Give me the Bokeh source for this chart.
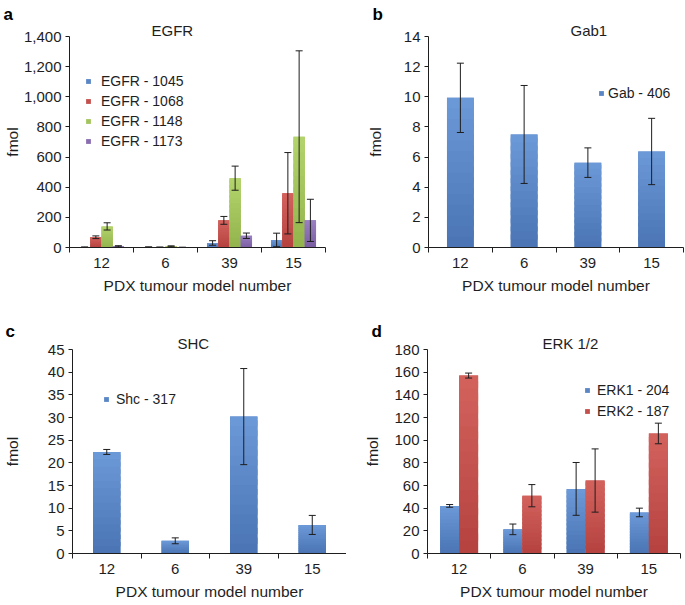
from bokeh.plotting import figure
from bokeh.models import (Range1d, FixedTicker, SingleIntervalTicker, NumeralTickFormatter,
                          ColumnDataSource, Whisker, TeeHead, Title)
from bokeh.layouts import column, row
from bokeh.embed import file_html
from bokeh.resources import INLINE

# ---------------- data ----------------
categories = ["12", "6", "39", "15"]

egfr_names = ["EGFR - 1045", "EGFR - 1068", "EGFR - 1148", "EGFR - 1173"]
egfr_1045 = [2, 3, 30, 50]
egfr_1045_err = [2, 1, 15, 45]
egfr_1068 = [68, 2, 180, 360]
egfr_1068_err = [9, 1, 26, 270]
egfr_1148 = [140, 8, 460, 735]
egfr_1148_err = [24, 3, 80, 570]
egfr_1173 = [8, 1, 78, 180]
egfr_1173_err = [4, 1, 18, 140]

gab_names = ["Gab - 406"]
gab_406 = [9.93, 7.5, 5.63, 6.37]
gab_406_err = [2.3, 3.25, 0.98, 2.2]

shc_names = ["Shc - 317"]
shc_317 = [22.4, 2.8, 30.2, 6.3]
shc_317_err = [0.55, 0.65, 10.6, 2.1]

erk_names = ["ERK1 - 204", "ERK2 - 187"]
erk1_204 = [42, 21.3, 57, 36.2]
erk1_204_err = [1.2, 4.7, 23.3, 3.8]
erk2_187 = [157, 51, 64.4, 105.9]
erk2_187_err = [2.2, 9.8, 27.9, 9.1]

# (legend/mid colour, light top, dark bottom)
BLUE = ("#5A86C5", (108, 153, 216), (74, 116, 179))
RED = ("#C4504C", (211, 98, 93), (181, 66, 63))
GREEN = ("#A3C45C", (179, 211, 108), (147, 179, 77))
PURPLE = ("#8A6CB0", (154, 128, 194), (122, 93, 162))
INK = "#1e1e1e"
FONT = "Liberation Sans"
NSLICE = 14


def make_fig(w, h, left, right, top, bottom, ymax, yint, yfmt, title, toff,
             letter, loff, ylab_standoff, s1, s2):
    n = len(categories)
    p = figure(width=w, height=h, x_range=Range1d(0, n), y_range=Range1d(0, ymax),
               output_backend="svg", toolbar_location=None, title=None,
               min_border_left=left, min_border_right=right,
               min_border_top=top, min_border_bottom=bottom)
    p.outline_line_color = None
    p.xgrid.visible = False
    p.ygrid.visible = False
    p.background_fill_color = "white"
    p.border_fill_color = "white"

    centers = [i + 0.5 for i in range(n)]
    xa = p.xaxis[0]
    xa.ticker = FixedTicker(ticks=centers, minor_ticks=list(range(n + 1)))
    xa.major_label_overrides = {c: lab for c, lab in zip(centers, categories)}
    xa.major_tick_out = 0
    xa.major_tick_in = 0
    xa.minor_tick_out = 5
    xa.minor_tick_in = 0
    xa.major_label_standoff = 5
    xa.axis_label = "PDX tumour model number"
    xa.axis_label_standoff = 6

    ya = p.yaxis[0]
    ya.ticker = SingleIntervalTicker(interval=yint, num_minor_ticks=0)
    if yfmt:
        ya.formatter = NumeralTickFormatter(format=yfmt)
    ya.major_tick_out = 4
    ya.major_tick_in = 0
    ya.minor_tick_out = 0
    ya.minor_tick_in = 0
    ya.major_label_standoff = 4
    ya.axis_label = "fmol"
    ya.axis_label_standoff = ylab_standoff

    for ax in (xa, ya):
        ax.axis_line_color = INK
        ax.major_tick_line_color = INK
        ax.minor_tick_line_color = INK
        ax.major_label_text_font = FONT
        ax.major_label_text_font_size = "15px"
        ax.major_label_text_color = INK
        ax.axis_label_text_font = FONT
        ax.axis_label_text_font_size = "15.5px"
        ax.axis_label_text_font_style = "normal"
        ax.axis_label_text_color = INK

    p.add_layout(Title(text=title, align="left", offset=toff, standoff=s1,
                       text_font=FONT, text_font_size="15px", text_font_style="normal",
                       text_color=INK), "above")
    p.add_layout(Title(text=letter, align="left", offset=loff, standoff=s2,
                       text_font=FONT, text_font_size="17px", text_font_style="bold",
                       text_color="black"), "above")
    return p, centers


def mix(c0, c1, t):
    r, g, b = (round(a + (b_ - a) * t) for a, b_ in zip(c0, c1))
    return "#%02x%02x%02x" % (r, g, b)


def add_series(p, centers, vals, errs, offset, width, color, name):
    mid, light, dark = color
    xs = [c + offset for c in centers]
    src = ColumnDataSource(dict(x=xs, top=vals,
                                upper=[v + e for v, e in zip(vals, errs)],
                                lower=[max(v - e, 0) for v, e in zip(vals, errs)]))
    p.vbar(x="x", top="top", width=width, bottom=0, source=src,
           fill_color=mid, line_color=None, legend_label=name)
    # vertical shading of each bar: slices of the same bar, darker at the base
    for k in range(NSLICE):
        bots = [v * k / NSLICE for v in vals]
        tops = [min(v * (k + 1.6) / NSLICE, v) for v in vals]
        p.vbar(x=xs, bottom=bots, top=tops, width=width,
               fill_color=mix(dark, light, (k + 0.5) / NSLICE), line_color=None)
    wk = Whisker(source=src, base="x", upper="upper", lower="lower", dimension="height",
                 line_color=INK, line_width=1, level="annotation",
                 upper_head=TeeHead(size=7, line_color=INK, line_width=1),
                 lower_head=TeeHead(size=7, line_color=INK, line_width=1))
    p.add_layout(wk)


def style_legend(p, x, y, standoff, spacing):
    lg = p.legend[0]
    lg.location = (x, y)
    lg.margin = 0
    lg.padding = 0
    lg.border_line_color = None
    lg.background_fill_alpha = 0
    lg.glyph_width = 6
    lg.glyph_height = 6
    lg.label_height = 17
    lg.spacing = spacing
    lg.label_standoff = standoff
    lg.label_text_font = FONT
    lg.label_text_font_size = "14px"
    lg.label_text_color = INK


# ---------- panel a ----------
pa, ca = make_fig(342, 300, 68, 17, 36, 53, 1400, 200, "0,0", "EGFR", 82, "a", -66, 0, -4, -4)
bw = 0.176
for k, (vals, errs, col, nm) in enumerate(zip(
        [egfr_1045, egfr_1068, egfr_1148, egfr_1173],
        [egfr_1045_err, egfr_1068_err, egfr_1148_err, egfr_1173_err],
        [BLUE, RED, GREEN, PURPLE], egfr_names)):
    add_series(pa, ca, vals, errs, (k - 1.5) * bw, bw, col, nm)
style_legend(pa, 16, 98, 10, 3)

# ---------- panel b ----------
pb, cb = make_fig(342, 300, 86, 1, 36, 53, 14, 2, None, "Gab1", 142, "b", -56, 17, -4, -4)
add_series(pb, cb, gab_406, gab_406_err, 0, 0.42, BLUE, gab_names[0])
style_legend(pb, 170, 146, 4, 3)

# ---------- panel c ----------
pc, cc = make_fig(346, 305, 69, 0, 49, 50, 45, 5, None, "SHC", 105, "c", -67, 24, -5, -10)
add_series(pc, cc, shc_317, shc_317_err, 0, 0.4, BLUE, shc_names[0])
style_legend(pc, 31, 146, 7, 3)

# ---------- panel d ----------
pd, cd = make_fig(338, 305, 81, 4, 49, 52, 180, 20, None, "ERK 1/2", 115, "d", -56, 10, -5, -10)
for k, (vals, errs, col, nm) in enumerate(zip(
        [erk1_204, erk2_187], [erk1_204_err, erk2_187_err], [BLUE, RED], erk_names)):
    add_series(pd, cd, vals, errs, (k - 0.5) * 0.3, 0.3, col, nm)
style_legend(pd, 157, 134, 7, 4)

layout = column(row(pa, pb), row(pc, pd))
open("out.html", "w").write(file_html(layout, INLINE))
